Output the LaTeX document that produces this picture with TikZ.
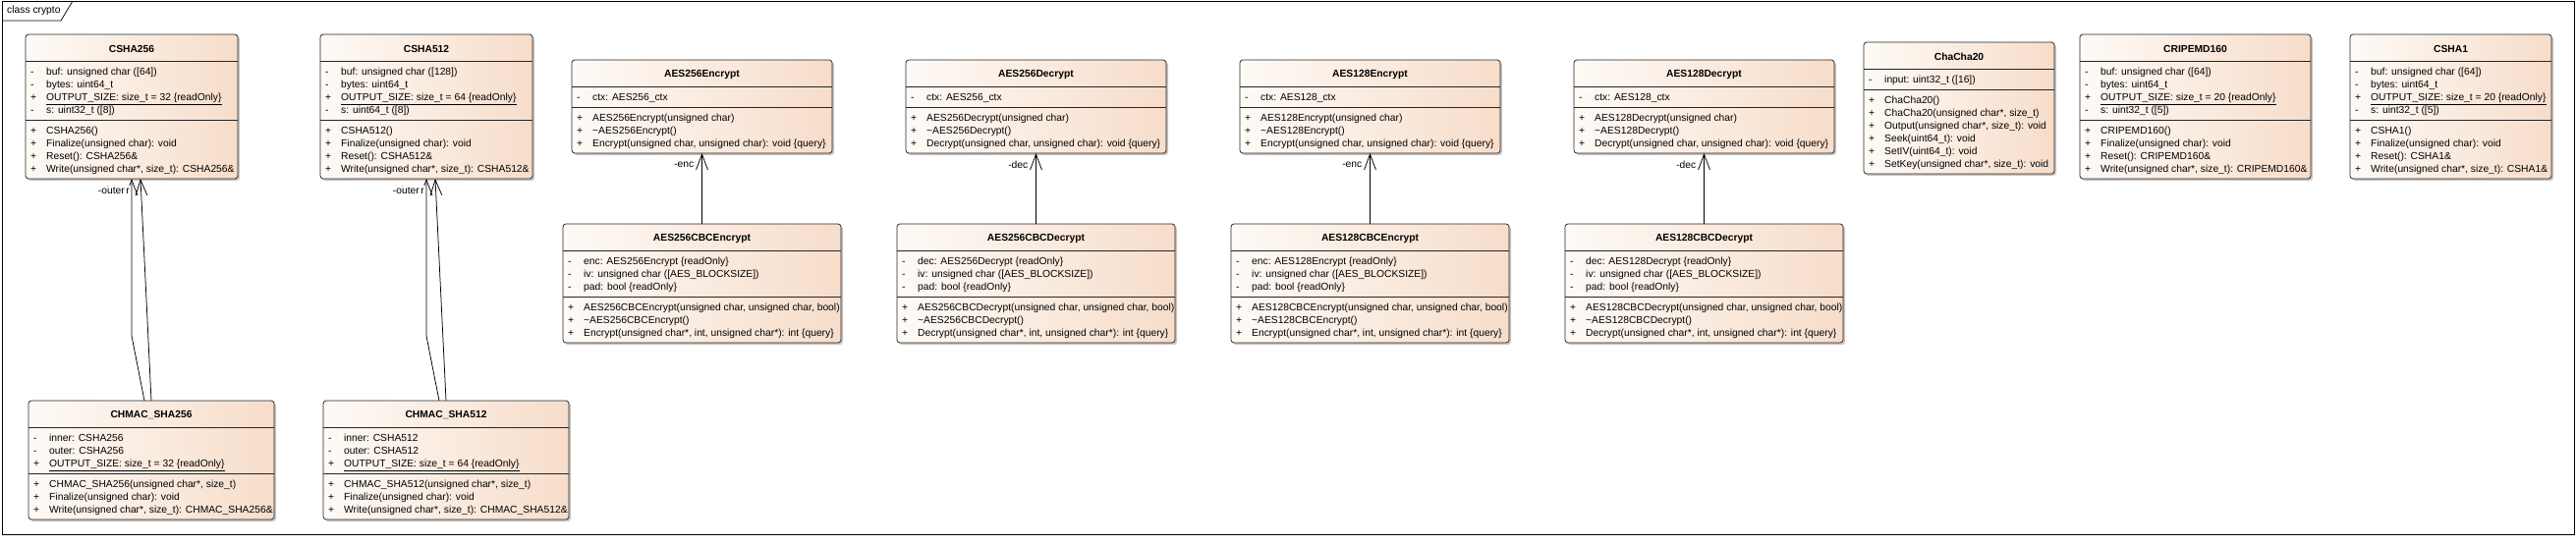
\documentclass[tikz,border=0pt]{standalone}
\usepackage{fontspec}
\setmainfont{Liberation Sans}
\usetikzlibrary{calc}
\usetikzlibrary{arrows.meta}
\usetikzlibrary{shadows}

\definecolor{classleft}{HTML}{FEFAF6}
\definecolor{classright}{HTML}{F7DDCA}

\newcommand{\TitleH}{27}
\newcommand{\RowH}{13}
\newcommand{\UMLFont}{\fontsize{10.3}{13}\selectfont}
\newcommand{\StaticMember}[1]{\smash{\underline{#1}}}

\tikzset{
  classbox/.style={draw=black!85, line width=0.75pt, rounded corners=3pt,
    left color=classleft, right color=classright, inner sep=0pt, outer sep=0pt,
    drop shadow={shadow xshift=2pt, shadow yshift=-2pt, fill=black!45, opacity=0.5}},
  compline/.style={draw=black!85, line width=0.75pt},
  classtitle/.style={font=\UMLFont\bfseries, inner sep=0pt},
  members/.style={font=\UMLFont, inner sep=0pt, anchor=north west},
  assoc/.style={line width=0.75pt, -{Straight Barb[length=16pt,width=12pt]}},
  rolelabel/.style={font=\UMLFont, fill=white, inner sep=1pt, anchor=east}
}

\newcommand{\CryptoClass}[8]{
  \node[classbox, anchor=north west, minimum width=#3pt,
    minimum height={\TitleH+(#4+#5)*\RowH+16}] (#1) at #2 {};
  \draw[compline] ($(#1.north west)+(0,\TitleH)$) -- ($(#1.north east)+(0,\TitleH)$);
  \draw[compline] ($(#1.north west)+(0,\TitleH+#4*\RowH+8)$) -- ($(#1.north east)+(0,\TitleH+#4*\RowH+8)$);
  \node[classtitle] (#1-title) at ($(#1.north)+(0,\TitleH/2+1)$) {#6};
  \node[members] (#1-attrs) at ($(#1.north west)+(5,\TitleH+5)$)
    {\begin{tabular}{@{}p{16pt}@{}l@{}}#7\end{tabular}};
  \node[members] (#1-ops) at ($(#1.north west)+(5,\TitleH+#4*\RowH+13)$)
    {\begin{tabular}{@{}p{16pt}@{}l@{}}#8\end{tabular}};
}

\newcommand{\RoleArrow}[3]{
  \draw[assoc] (#1.north) -- (#2.south);
  \node[rolelabel] (#2-role) at ($(#2.south)+(-7,12)$) {#3};
}

\begin{document}
\begin{tikzpicture}[x=1pt,y=-1pt]
\useasboundingbox (0,0) rectangle (2622,555);
\draw[line width=0.75pt] (2,1) rectangle (2620,544);
\coordinate (tabcorner) at (62,21);
\draw[line width=0.75pt] (2,21) -- (tabcorner) -- (74,1);
\node[font=\UMLFont, anchor=west, inner sep=0pt] (frametitle) at (7,11) {class crypto};

\CryptoClass{csha256}{(26,35)}{216}{4}{4}{CSHA256}
  {- & buf: unsigned char ([64])\\
   - & bytes: uint64\_t\\
   + & \StaticMember{OUTPUT\_SIZE: size\_t = 32 \{readOnly\}}\\
   - & s: uint32\_t ([8])}
  {+ & CSHA256()\\
   + & Finalize(unsigned char): void\\
   + & Reset(): CSHA256\&\\
   + & Write(unsigned char*, size\_t): CSHA256\&}

\CryptoClass{csha512}{(326,35)}{216}{4}{4}{CSHA512}
  {- & buf: unsigned char ([128])\\
   - & bytes: uint64\_t\\
   + & \StaticMember{OUTPUT\_SIZE: size\_t = 64 \{readOnly\}}\\
   - & s: uint64\_t ([8])}
  {+ & CSHA512()\\
   + & Finalize(unsigned char): void\\
   + & Reset(): CSHA512\&\\
   + & Write(unsigned char*, size\_t): CSHA512\&}

\CryptoClass{aes256enc}{(582,61)}{265}{1}{3}{AES256Encrypt}
  {- & ctx: AES256\_ctx}
  {+ & AES256Encrypt(unsigned char)\\
   + & \textasciitilde AES256Encrypt()\\
   + & Encrypt(unsigned char, unsigned char): void \{query\}}

\CryptoClass{aes256dec}{(922,61)}{265}{1}{3}{AES256Decrypt}
  {- & ctx: AES256\_ctx}
  {+ & AES256Decrypt(unsigned char)\\
   + & \textasciitilde AES256Decrypt()\\
   + & Decrypt(unsigned char, unsigned char): void \{query\}}

\CryptoClass{aes128enc}{(1262,61)}{265}{1}{3}{AES128Encrypt}
  {- & ctx: AES128\_ctx}
  {+ & AES128Encrypt(unsigned char)\\
   + & \textasciitilde AES128Encrypt()\\
   + & Encrypt(unsigned char, unsigned char): void \{query\}}

\CryptoClass{aes128dec}{(1602,61)}{265}{1}{3}{AES128Decrypt}
  {- & ctx: AES128\_ctx}
  {+ & AES128Decrypt(unsigned char)\\
   + & \textasciitilde AES128Decrypt()\\
   + & Decrypt(unsigned char, unsigned char): void \{query\}}

\CryptoClass{chacha20}{(1897,43)}{194}{1}{6}{ChaCha20}
  {- & input: uint32\_t ([16])}
  {+ & ChaCha20()\\
   + & ChaCha20(unsigned char*, size\_t)\\
   + & Output(unsigned char*, size\_t): void\\
   + & Seek(uint64\_t): void\\
   + & SetIV(uint64\_t): void\\
   + & SetKey(unsigned char*, size\_t): void}

\CryptoClass{cripemd160}{(2117,35)}{235}{4}{4}{CRIPEMD160}
  {- & buf: unsigned char ([64])\\
   - & bytes: uint64\_t\\
   + & \StaticMember{OUTPUT\_SIZE: size\_t = 20 \{readOnly\}}\\
   - & s: uint32\_t ([5])}
  {+ & CRIPEMD160()\\
   + & Finalize(unsigned char): void\\
   + & Reset(): CRIPEMD160\&\\
   + & Write(unsigned char*, size\_t): CRIPEMD160\&}

\CryptoClass{csha1}{(2392,35)}{205}{4}{4}{CSHA1}
  {- & buf: unsigned char ([64])\\
   - & bytes: uint64\_t\\
   + & \StaticMember{OUTPUT\_SIZE: size\_t = 20 \{readOnly\}}\\
   - & s: uint32\_t ([5])}
  {+ & CSHA1()\\
   + & Finalize(unsigned char): void\\
   + & Reset(): CSHA1\&\\
   + & Write(unsigned char*, size\_t): CSHA1\&}

\CryptoClass{aes256cbcenc}{(573,228)}{283}{3}{3}{AES256CBCEncrypt}
  {- & enc: AES256Encrypt \{readOnly\}\\
   - & iv: unsigned char ([AES\_BLOCKSIZE])\\
   - & pad: bool \{readOnly\}}
  {+ & AES256CBCEncrypt(unsigned char, unsigned char, bool)\\
   + & \textasciitilde AES256CBCEncrypt()\\
   + & Encrypt(unsigned char*, int, unsigned char*): int \{query\}}

\CryptoClass{aes256cbcdec}{(913,228)}{283}{3}{3}{AES256CBCDecrypt}
  {- & dec: AES256Decrypt \{readOnly\}\\
   - & iv: unsigned char ([AES\_BLOCKSIZE])\\
   - & pad: bool \{readOnly\}}
  {+ & AES256CBCDecrypt(unsigned char, unsigned char, bool)\\
   + & \textasciitilde AES256CBCDecrypt()\\
   + & Decrypt(unsigned char*, int, unsigned char*): int \{query\}}

\CryptoClass{aes128cbcenc}{(1253,228)}{283}{3}{3}{AES128CBCEncrypt}
  {- & enc: AES128Encrypt \{readOnly\}\\
   - & iv: unsigned char ([AES\_BLOCKSIZE])\\
   - & pad: bool \{readOnly\}}
  {+ & AES128CBCEncrypt(unsigned char, unsigned char, bool)\\
   + & \textasciitilde AES128CBCEncrypt()\\
   + & Encrypt(unsigned char*, int, unsigned char*): int \{query\}}

\CryptoClass{aes128cbcdec}{(1593,228)}{283}{3}{3}{AES128CBCDecrypt}
  {- & dec: AES128Decrypt \{readOnly\}\\
   - & iv: unsigned char ([AES\_BLOCKSIZE])\\
   - & pad: bool \{readOnly\}}
  {+ & AES128CBCDecrypt(unsigned char, unsigned char, bool)\\
   + & \textasciitilde AES128CBCDecrypt()\\
   + & Decrypt(unsigned char*, int, unsigned char*): int \{query\}}

\CryptoClass{chmac256}{(29,408)}{250}{3}{3}{CHMAC\_SHA256}
  {- & inner: CSHA256\\
   - & outer: CSHA256\\
   + & \StaticMember{OUTPUT\_SIZE: size\_t = 32 \{readOnly\}}}
  {+ & CHMAC\_SHA256(unsigned char*, size\_t)\\
   + & Finalize(unsigned char): void\\
   + & Write(unsigned char*, size\_t): CHMAC\_SHA256\&}

\CryptoClass{chmac512}{(329,408)}{250}{3}{3}{CHMAC\_SHA512}
  {- & inner: CSHA512\\
   - & outer: CSHA512\\
   + & \StaticMember{OUTPUT\_SIZE: size\_t = 64 \{readOnly\}}}
  {+ & CHMAC\_SHA512(unsigned char*, size\_t)\\
   + & Finalize(unsigned char): void\\
   + & Write(unsigned char*, size\_t): CHMAC\_SHA512\&}

\RoleArrow{aes256cbcenc}{aes256enc}{-enc}
\RoleArrow{aes256cbcdec}{aes256dec}{-dec}
\RoleArrow{aes128cbcenc}{aes128enc}{-enc}
\RoleArrow{aes128cbcdec}{aes128dec}{-dec}

\draw[assoc] ($(chmac256.north)+(-7,0)$) -- ($(csha256.south)+(0,160)$) -- (csha256.south);
\draw[assoc] (chmac256.north) -- ($(csha256.south)+(9,0)$);
\node[rolelabel] (chmac256-inner) at ($(csha256.south)+(-1,12)$) {-inner};
\node[rolelabel] (chmac256-outer) at ($(csha256.south)+(-6,12)$) {-outer};

\draw[assoc] ($(chmac512.north)+(-7,0)$) -- ($(csha512.south)+(0,160)$) -- (csha512.south);
\draw[assoc] (chmac512.north) -- ($(csha512.south)+(9,0)$);
\node[rolelabel] (chmac512-inner) at ($(csha512.south)+(-1,12)$) {-inner};
\node[rolelabel] (chmac512-outer) at ($(csha512.south)+(-6,12)$) {-outer};
\end{tikzpicture}
\end{document}
